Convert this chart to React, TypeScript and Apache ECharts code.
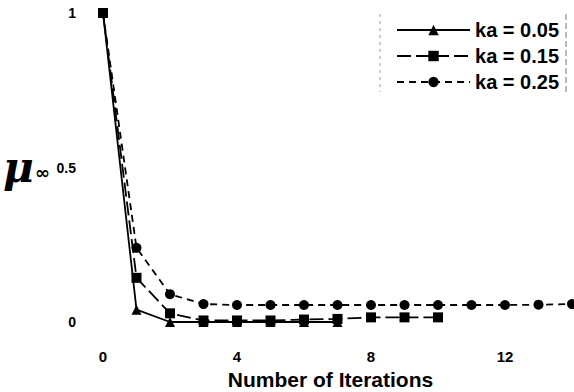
import React, { useEffect, useRef } from "react";
import * as echarts from "echarts";

const iterations = [0, 1, 2, 3, 4, 5, 6, 7, 8, 9, 10, 11, 12, 13, 14];
const ka005 = [1, 0.04, 0, 0, 0, 0, 0, 0];
const ka015 = [1, 0.143, 0.028, 0.005, 0.005, 0.005, 0.008, 0.01, 0.015, 0.015, 0.015];
const ka025 = [1, 0.24, 0.09, 0.058, 0.055, 0.055, 0.055, 0.055, 0.055, 0.055, 0.055, 0.055, 0.055, 0.056, 0.058];
const xTicks = [0, 4, 8, 12];
const yTicks = [0, 0.5, 1];
const names = ["ka = 0.05", "ka = 0.15", "ka = 0.25"];

const pairs = (ys: number[]) => ys.map((y, i) => [iterations[i], y]);

export default function App() {
  const ref = useRef<HTMLDivElement>(null);
  useEffect(() => {
    if (!ref.current) return;
    const chart = echarts.init(ref.current, undefined, { renderer: "svg" });
    const font = "Liberation Sans, Arial, sans-serif";
    chart.setOption({
      animation: false,
      grid: { left: 103, right: 2, top: 13, bottom: 70, outerBoundsMode: "none", containLabel: false },
      xAxis: {
        type: "value",
        min: 0,
        max: 14,
        interval: 4,
        name: "Number of Iterations",
        nameLocation: "middle",
        nameGap: 44,
        nameTextStyle: { fontFamily: font, fontWeight: "bold", fontSize: 21, color: "#000", padding: [0, 14, 0, 0] },
        axisLine: { show: false },
        axisTick: { show: false },
        splitLine: { show: false },
        axisLabel: {
          margin: 27,
          fontFamily: font,
          fontWeight: "bold",
          fontSize: 15,
          color: "#000",
          formatter: (v: number) => (xTicks.includes(v) ? String(v) : ""),
        },
      },
      yAxis: {
        type: "value",
        min: 0,
        max: 1,
        interval: 0.5,
        axisLine: { show: false },
        axisTick: { show: false },
        splitLine: { show: false },
        axisLabel: {
          margin: 27,
          fontFamily: font,
          fontWeight: "bold",
          fontSize: 14,
          color: "#000",
          formatter: (v: number) => (yTicks.includes(v) ? String(v) : ""),
        },
      },
      legend: {
        orient: "vertical",
        right: 10,
        top: 15,
        itemWidth: 73,
        itemHeight: 13,
        itemGap: 6,
        data: names,
        textStyle: { fontFamily: font, fontWeight: "bold", fontSize: 20, color: "#000" },
      },
      graphic: [
        {
          type: "text",
          left: 3,
          top: 146,
          style: {
            text: "μ",
            font: "italic bold 42px 'DejaVu Serif', serif",
            fill: "#000",
          },
        },
        {
          type: "text",
          left: 35,
          top: 163,
          style: {
            text: "∞",
            font: "bold 18px 'DejaVu Sans', sans-serif",
            fill: "#000",
          },
        },
        {
          type: "line",
          shape: { x1: 380, y1: 14, x2: 380, y2: 92 },
          style: { stroke: "#999", lineWidth: 1, lineDash: [3, 4] },
        },
        {
          type: "line",
          shape: { x1: 566, y1: 14, x2: 566, y2: 92 },
          style: { stroke: "#777", lineWidth: 1, lineDash: [6, 3] },
        },
      ],
      series: [
        {
          name: names[0],
          type: "line",
          data: pairs(ka005),
          symbol: "triangle",
          symbolSize: 10,
          z: 4,
          lineStyle: { color: "#000", width: 1.8, type: "solid" },
          itemStyle: { color: "#000" },
        },
        {
          name: names[1],
          type: "line",
          data: pairs(ka015),
          symbol: "rect",
          symbolSize: 10,
          z: 3,
          lineStyle: { color: "#000", width: 1.8, type: [14, 5] },
          itemStyle: { color: "#000" },
        },
        {
          name: names[2],
          type: "line",
          data: pairs(ka025),
          symbol: "circle",
          symbolSize: 10,
          z: 2,
          lineStyle: { color: "#000", width: 1.8, type: [7, 5] },
          itemStyle: { color: "#000" },
        },
      ],
    });
    return () => chart.dispose();
  }, []);
  return <div ref={ref} style={{ width: 574, height: 392, position: "absolute", left: 0, top: 0 }} />;
}
